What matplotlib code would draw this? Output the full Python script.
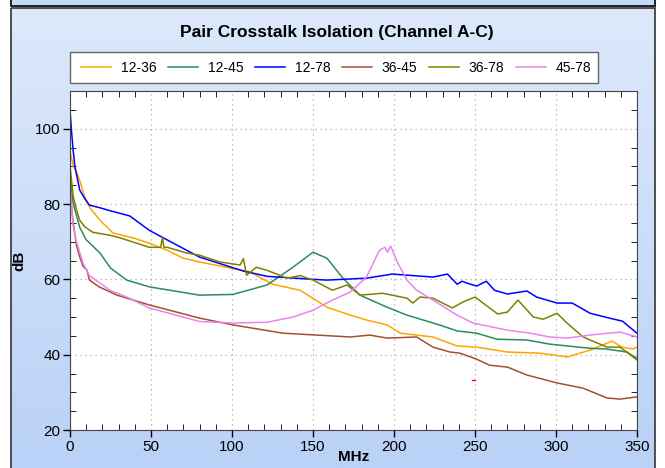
import numpy as np
import matplotlib
matplotlib.use('Agg')
import matplotlib.pyplot as plt
from matplotlib.patches import Rectangle

plt.rcParams['font.family'] = ['Liberation Sans', 'DejaVu Sans']

# ── data ──────────────────────────────────────────────
f_1236 = [0, 1, 2, 4, 6, 9, 12.3, 18.5, 26.5, 39, 49, 60, 70, 80, 111, 125, 142, 158.6, 173, 183,
          195.7, 204, 224, 239, 251, 270, 290, 307, 321, 334.6, 340.7, 347.5, 350]
d_1236 = [94, 92, 90, 88.5, 86.3, 82, 79, 75.7, 72.3, 71, 69.6, 67.7, 65.6, 64.6, 62, 58.7, 57.1, 52.6, 50.5, 49.2,
          47.9, 45.7, 44.7, 42.3, 42, 40.7, 40.4, 39.4, 41.2, 43.6, 42, 41.5, 42]

f_1245 = [0, 1, 2, 4, 6, 10, 18.5, 25, 35, 49, 80, 100.6, 121.6, 137.6, 150, 158.6, 168.5, 179,
          195.7, 208, 228, 239, 251, 263.6, 282, 296, 321, 331, 343.8, 350]
d_1245 = [88, 84, 80, 77, 73.8, 70.5, 67, 63, 59.8, 58, 55.8, 56, 58.5, 63.2, 67.2, 65.6, 60.3, 55.8,
          52.6, 50.5, 47.9, 46.3, 45.7, 44.1, 43.9, 42.8, 41.7, 41.5, 40.7, 39]

f_1278 = [0, 1, 2, 3, 6, 9, 12, 18.5, 24, 31, 37, 49, 62, 80, 107, 121.6, 150, 158.6, 183, 199, 224, 233,
          239, 242, 245, 251, 257, 262, 270, 282, 288, 300.6, 310, 321, 333, 341, 350]
d_1278 = [105, 99, 94, 90, 83.7, 81.5, 79.7, 79, 78.3, 77.5, 76.8, 73, 70, 65.9, 62.2, 60.8, 60, 59.8, 60.3, 61.4, 60.6, 61.4,
          58.7, 59.5, 59, 58.2, 59.5, 57.1, 56.1, 56.9, 55.3, 53.7, 53.7, 51, 49.7, 48.9, 45.7]

f_3645 = [0, 1, 2, 4, 6, 8, 10.5, 12, 18, 29, 49, 80, 100.6, 131.5, 152.5, 173, 185, 195.7, 214, 224, 234.6,
          240.7, 251, 259, 270, 282, 300.6, 316.7, 331.5, 339.5, 350]
d_3645 = [84.5, 79, 75, 69, 66, 63.5, 62.4, 59.8, 58, 55.8, 53.2, 49.7, 47.9, 45.7, 45.2, 44.7, 45.2, 44.4, 44.7, 42, 40.7,
          40.4, 38.8, 37.2, 36.7, 34.6, 32.5, 31.1, 28.5, 28.2, 28.8]

f_3678 = [0, 1, 2, 4, 6, 9, 14, 24.7, 31, 49, 56, 57, 58, 60, 72, 80, 92.6, 105, 107, 109, 115, 121.6, 134,
          142, 150, 162, 171, 179, 193, 208, 211.7, 216, 224, 236, 242.6, 250, 264, 270, 276.5,
          286, 292, 300.6, 306.8, 316.7, 331.5, 339.5, 350]
d_3678 = [90, 86, 82, 78.5, 75.7, 74, 72.5, 71.7, 71, 68.5, 68.5, 71.2, 68.5, 68.5, 67, 66.4, 64.6, 63.8, 65.5, 61.1, 63.2, 62.4, 60.3,
          61, 59.8, 57.1, 58.5, 55.8, 56.3, 55, 53.7, 55.3, 55, 52.4, 54, 55.3, 50.8, 51.3, 54.5,
          50, 49.4, 51, 48.4, 44.7, 42, 42, 38.6]

f_4578 = [0, 1, 2, 4, 8, 12, 18.5, 25, 35, 49, 80, 100.6, 121.6, 137.6, 150, 162, 173, 183, 191, 194.4, 196,
          198, 202, 208, 214, 224, 239, 248.7, 270, 284, 296, 307, 321, 339.5, 350]
d_4578 = [84, 79, 74, 70, 64.3, 61, 59, 57, 55.3, 52.4, 48.8, 48.4, 48.6, 50, 51.8, 54.5, 56.6, 60.6, 67.7, 68.5, 67.2,
          68.8, 64.6, 59.8, 57.1, 54.5, 50.5, 48.4, 46.5, 45.7, 44.7, 44.4, 45.2, 46, 44.7]

labels = ['12-36', '12-45', '12-78', '36-45', '36-78', '45-78']
colors = ['#FFA500', '#2E8B57', '#0000FF', '#A0522D', '#808000', '#EE82EE']
series = [(f_1236, d_1236), (f_1245, d_1245), (f_1278, d_1278),
          (f_3645, d_3645), (f_3678, d_3678), (f_4578, d_4578)]

# ── figure & background ───────────────────────────────
fig = plt.figure(figsize=(6.65, 4.68), dpi=100)
W, H = 665, 468

bg = fig.add_axes([0, 0, 1, 1], zorder=-5)
bg.set_xlim(0, W); bg.set_ylim(H, 0); bg.axis('off')
grad = np.linspace(0, 1, 256)[:, None]
bg.imshow(grad, extent=(11, 655, H, 8), aspect='auto',
          cmap=matplotlib.colors.LinearSegmentedColormap.from_list('p', ['#dde9fb', '#bad2f7']))
bg.add_patch(Rectangle((11, 8), 644, H, fill=False, ec='#333333', lw=1.2))
bg.add_patch(Rectangle((11, -2), 644, 8, fc='#c4d9f8', ec='#222222', lw=1.4))
bg.add_patch(Rectangle((70, 52), 528, 31, fc='white', ec='#666666', lw=1))

ax = fig.add_axes([70/W, 1-430/H, (637-70)/W, (430-91)/H])
for (f, d), c, lab in zip(series, colors, labels):
    ax.plot(f, d, color=c, lw=1.1, label=lab)
ax.plot([248, 250], [33.3, 33.3], color='red', lw=1)

ax.set_xlim(0, 350); ax.set_ylim(20, 110)
ax.set_xticks(np.arange(0, 351, 50))
ax.set_yticks(np.arange(20, 101, 20))
ax.set_xticks(np.arange(0, 351, 10), minor=True)
ax.set_yticks(np.arange(20, 111, 5), minor=True)
ax.tick_params(axis='both', which='major', direction='out', length=5, labelsize=11, width=1, pad=2)
ax.tick_params(axis='both', which='minor', direction='in', length=4, top=True, right=True)
ax.grid(True, which='major', ls=(0, (1, 3)), color='#aaaaaa', lw=0.9)
for s in ax.spines.values():
    s.set_color('#444444')
ax.set_xlabel('MHz', fontsize=11, fontweight='bold', labelpad=-3)
ax.set_ylabel('dB', fontsize=11, fontweight='bold', labelpad=6)

fig.text(337/W, 1-32/H, 'Pair Crosstalk Isolation (Channel A-C)', ha='center', va='center',
         fontsize=12.5, fontweight='bold')
fig.legend(*ax.get_legend_handles_labels(), loc='upper left', bbox_to_anchor=(71/W, 1-51/H),
           ncol=6, frameon=False, handlelength=2.15, columnspacing=0.83,
           handletextpad=0.72, borderpad=0.2, fontsize=10)

fig.savefig('out.png', dpi=100)
